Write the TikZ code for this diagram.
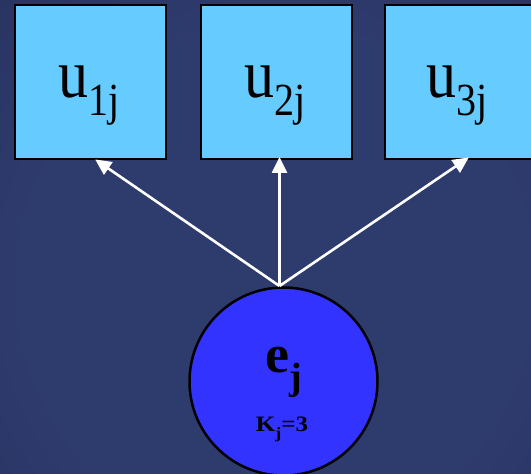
\documentclass[tikz,border=0pt]{standalone}
\usepackage{fontspec}
\setmainfont{Liberation Serif}
\usetikzlibrary{arrows.meta}
\definecolor{bgdark}{HTML}{1B2044}
\definecolor{bgmid}{HTML}{2E3B6D}
\definecolor{boxfill}{HTML}{66CCFF}
\definecolor{circfill}{HTML}{3333FF}
\pgfdeclareradialshading{bgshade}{\pgfpoint{0bp}{0bp}}{color(0bp)=(bgmid); color(22bp)=(bgmid); color(70bp)=(bgdark); color(100bp)=(bgdark)}
\tikzset{
  ubox/.style={draw=black, line width=2.5pt, fill=boxfill, minimum width=151pt, minimum height=154pt, inner sep=0pt, anchor=south west},
  latent/.style={circle, draw=black, line width=2.5pt, fill=circfill, minimum size=188pt, inner sep=0pt},
  conn/.style={draw=white, line width=2.6pt, -{Triangle[width=15pt,length=16pt]}, shorten >=-1pt},
  utext/.style={font=\fontsize{60}{60}\selectfont, inner sep=0pt}
}
\newcommand{\usub}[2]{\scalebox{1}[1.15]{#1\raisebox{-0.26em}{\fontsize{40}{40}\selectfont #2}}}
\begin{document}
\begin{tikzpicture}[x=1pt,y=1pt]
\useasboundingbox (0,0) rectangle (531,474);
\clip (0,0) rectangle (531,474);
\shade[shading=bgshade] (-10,-100) rectangle (560,480);
\node[ubox] (b1) at (13.5,313.5) {};
\node[ubox] (b2) at (199.5,313.5) {};
\node[ubox] (b3) at (383.5,313.5) {};
\node[utext, anchor=base] (t1) at (89,376) {\usub{u}{1j}};
\node[utext, anchor=base] (t2) at (275,376) {\usub{u}{2j}};
\node[utext, anchor=base] (t3) at (457,376) {\usub{u}{3j}};
\node[latent] (e) at (283.5,92.5) {};
\node[anchor=base, font=\bfseries\fontsize{54}{54}\selectfont] (et) at (283.5,101) {e\raisebox{-0.3em}{\fontsize{38}{38}\selectfont j}};
\node[anchor=base, font=\bfseries\fontsize{25}{25}\selectfont] (kt) at (282,42) {\scalebox{1}[0.88]{K\raisebox{-0.3em}{\fontsize{18}{18}\selectfont j}=3}};
\coordinate (src) at (279.5,188);
\draw[conn] (src) -- (96,314);
\draw[conn] (src) -- (279.5,316);
\draw[conn] (src) -- (468,316);
\end{tikzpicture}
\end{document}
